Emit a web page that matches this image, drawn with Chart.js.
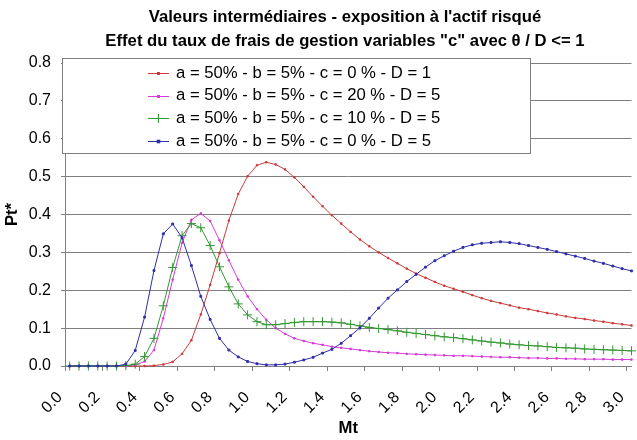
<!DOCTYPE html>
<html lang="fr">
<head>
  <meta charset="UTF-8">
  <title>Valeurs intermédiaires - exposition à l'actif risqué</title>
  <script src="https://cdn.jsdelivr.net/npm/chart.js"></script>
  <style>
    body { margin: 0; background: #fff; }
    #wrap { width: 637px; height: 440px; }
  </style>
</head>
<body>
  <div id="wrap"><canvas id="graphique" width="637" height="440"></canvas></div>

  <script>
    // Mt (abscisse), pas de 0.05
    const mt = [
      0.00, 0.05, 0.10, 0.15, 0.20, 0.25, 0.30, 0.35, 0.40, 0.45,
      0.50, 0.55, 0.60, 0.65, 0.70, 0.75, 0.80, 0.85, 0.90, 0.95,
      1.00, 1.05, 1.10, 1.15, 1.20, 1.25, 1.30, 1.35, 1.40, 1.45,
      1.50, 1.55, 1.60, 1.65, 1.70, 1.75, 1.80, 1.85, 1.90, 1.95,
      2.00, 2.05, 2.10, 2.15, 2.20, 2.25, 2.30, 2.35, 2.40, 2.45,
      2.50, 2.55, 2.60, 2.65, 2.70, 2.75, 2.80, 2.85, 2.90, 2.95,
      3.00
    ];

    // c = 0 %, D = 1
    const serieRouge = [
      0, 0, 0, 0, 0, 0, 0, 0, 0, 0.001,
      0.004, 0.011, 0.032, 0.068, 0.136, 0.214, 0.298, 0.384, 0.454, 0.501,
      0.530, 0.538, 0.532, 0.519, 0.498, 0.473, 0.447, 0.422, 0.398, 0.376,
      0.354, 0.334, 0.316, 0.300, 0.285, 0.271, 0.257, 0.244, 0.233, 0.222,
      0.212, 0.204, 0.196, 0.187, 0.179, 0.172, 0.166, 0.160, 0.154, 0.150,
      0.145, 0.140, 0.136, 0.131, 0.127, 0.124, 0.120, 0.117, 0.113, 0.110,
      0.107
    ];

    // c = 20 %, D = 5
    const serieMagenta = [
      0, 0, 0, 0, 0, 0, 0, 0.003, 0.012, 0.042,
      0.126, 0.228, 0.325, 0.386, 0.403, 0.383, 0.332, 0.279, 0.228, 0.184,
      0.150, 0.122, 0.100, 0.085, 0.073, 0.066, 0.060, 0.056, 0.051, 0.048,
      0.045, 0.042, 0.039, 0.037, 0.035, 0.034, 0.032, 0.031, 0.030, 0.029,
      0.028, 0.027, 0.027, 0.026, 0.025, 0.024, 0.023, 0.023, 0.022, 0.021,
      0.021, 0.020, 0.020, 0.019, 0.019, 0.018, 0.018, 0.018, 0.017, 0.017,
      0.017
    ];

    // c = 10 %, D = 5
    const serieVerte = [
      0, 0, 0, 0, 0, 0, 0.001, 0.005, 0.025, 0.073,
      0.159, 0.260, 0.344, 0.376, 0.365, 0.318, 0.262, 0.209, 0.164, 0.135,
      0.117, 0.109, 0.109, 0.112, 0.115, 0.117, 0.117, 0.117, 0.116, 0.114,
      0.110, 0.106, 0.102, 0.099, 0.096, 0.093, 0.089, 0.086, 0.083, 0.080,
      0.077, 0.075, 0.072, 0.069, 0.066, 0.063, 0.061, 0.058, 0.056, 0.054,
      0.053, 0.051, 0.049, 0.048, 0.047, 0.045, 0.044, 0.043, 0.042, 0.041,
      0.040
    ];

    // c = 0 %, D = 5
    const serieBleue = [
      0, 0, 0, 0, 0, 0, 0.005, 0.041, 0.129, 0.252,
      0.349, 0.375, 0.339, 0.265, 0.184, 0.123, 0.073, 0.042, 0.024, 0.012,
      0.006, 0.003, 0.003, 0.005, 0.010, 0.016, 0.023, 0.034, 0.044, 0.060,
      0.080, 0.101, 0.126, 0.153, 0.179, 0.201, 0.223, 0.242, 0.261, 0.278,
      0.291, 0.303, 0.313, 0.320, 0.324, 0.326, 0.328, 0.326, 0.323, 0.318,
      0.313, 0.308, 0.302, 0.296, 0.290, 0.284, 0.277, 0.271, 0.264, 0.257,
      0.251
    ];

    const etiquettesX = ['0.0', '0.2', '0.4', '0.6', '0.8', '1.0', '1.2', '1.4',
                         '1.6', '1.8', '2.0', '2.2', '2.4', '2.6', '2.8', '3.0'];

    const legendes = [
      'a = 50% - b = 5% - c = 0 % - D = 1',
      'a = 50% - b = 5% - c = 20 % - D = 5',
      'a = 50% - b = 5% - c = 10 % - D = 5',
      'a = 50% - b = 5% - c = 0 % - D = 5'
    ];
    const couleurs = ['#cc3a3a', '#d63ad6', '#339933', '#2e2ea8'];
    const marqueurs = ['rect', 'rect', 'cross', 'rect'];
    const tailles = [1, 1, 4.5, 1.3];

    const titre1 = "Valeurs intermédiaires - exposition à l'actif risqué";
    const titre2 = 'Effet du taux de frais de gestion variables "c" avec θ / D <= 1';

    const police = "'Liberation Sans', Arial, sans-serif";
    const demiPas = 0.025; // axe "entre les catégories" comme Excel

    const series = [serieRouge, serieMagenta, serieVerte, serieBleue];
    const datasets = series.map((s, i) => ({
      label: legendes[i],
      data: s.map((v, k) => ({ x: mt[k], y: v })),
      borderColor: couleurs[i],
      backgroundColor: couleurs[i],
      borderWidth: 1,
      pointStyle: marqueurs[i],
      pointRadius: tailles[i],
      pointBorderWidth: 1,
      tension: 0,
      clip: false,
      order: 3 - i
    }));

    // titre + légende dessinés à la main (position comme dans Excel)
    const decor = {
      id: 'decor',
      afterDraw(chart) {
        const ctx = chart.ctx;
        ctx.save();
        ctx.fillStyle = '#000';
        ctx.textAlign = 'center';
        ctx.textBaseline = 'middle';
        ctx.font = 'bold 16.7px ' + police;
        ctx.fillText(titre1, 345, 17);
        ctx.fillText(titre2, 345, 41);

        // boite de légende
        ctx.fillStyle = '#fff';
        ctx.fillRect(62.5, 58.5, 468, 95);
        ctx.strokeStyle = '#808080';
        ctx.lineWidth = 1;
        ctx.strokeRect(62.5, 58.5, 468, 95);

        ctx.font = '16.7px ' + police;
        ctx.textAlign = 'left';
        legendes.forEach((txt, i) => {
          const y = 73 + i * 22.7;
          const yl = Math.round(y) + 0.5;
          ctx.strokeStyle = couleurs[i];
          ctx.fillStyle = couleurs[i];
          ctx.beginPath();
          ctx.moveTo(148, yl);
          ctx.lineTo(169, yl);
          ctx.stroke();
          const r = tailles[i];
          if (marqueurs[i] === 'cross') {
            ctx.beginPath();
            ctx.moveTo(158.5, yl - r);
            ctx.lineTo(158.5, yl + r);
            ctx.stroke();
          } else {
            ctx.fillRect(158.5 - r - 0.5, yl - r - 0.5, 2 * r + 1, 2 * r + 1);
          }
          ctx.fillStyle = '#000';
          ctx.fillText(txt, 176, y);
        });
        ctx.restore();
      }
    };

    new Chart(document.getElementById('graphique'), {
      type: 'line',
      data: { datasets: datasets },
      options: {
        responsive: false,
        animation: false,
        devicePixelRatio: 1,
        layout: { padding: { top: 63, left: 0, right: 0, bottom: 0 } },
        plugins: {
          legend: { display: false },
          title: { display: false },
          tooltip: { enabled: false }
        },
        scales: {
          x: {
            type: 'linear',
            min: -demiPas,
            max: 3.0,
            afterBuildTicks: (scale) => {
              scale.ticks = etiquettesX.map(t => ({ value: parseFloat(t) - demiPas }));
            },
            afterFit: (scale) => {
              scale.height = 74;
              scale.paddingLeft = 0;
              scale.paddingRight = 0;
            },
            ticks: {
              autoSkip: false,
              maxRotation: 45,
              minRotation: 45,
              padding: 17,
              labelOffset: -5,
              color: '#000',
              font: { family: police, size: 16 },
              callback: (v, i) => etiquettesX[i]
            },
            grid: {
              drawOnChartArea: false,
              drawTicks: true,
              tickLength: 5,
              color: '#808080'
            },
            border: { display: true, color: '#808080' },
            title: {
              display: true,
              text: 'Mt',
              color: '#000',
              font: { family: police, size: 16.7, weight: 'bold' },
              padding: { top: 0, bottom: 2 }
            }
          },
          y: {
            min: 0,
            max: 0.8,
            afterFit: (scale) => {
              scale.width = 65;
              scale.paddingTop = 0;
              scale.paddingBottom = 0;
            },
            ticks: {
              stepSize: 0.1,
              padding: 10,
              color: '#000',
              font: { family: police, size: 16 },
              callback: (v) => v.toFixed(1)
            },
            grid: {
              color: '#808080',
              tickLength: 4
            },
            border: { display: true, color: '#808080' },
            title: {
              display: true,
              text: 'Pt*',
              color: '#000',
              font: { family: police, size: 16.7, weight: 'bold' },
              padding: { top: 2, bottom: 0 }
            }
          }
        }
      },
      plugins: [decor]
    });
  </script>
</body>
</html>
